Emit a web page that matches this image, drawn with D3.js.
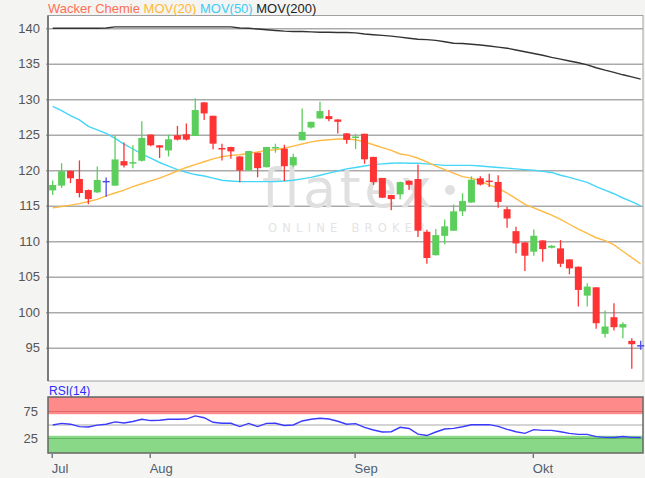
<!DOCTYPE html>
<html><head><meta charset="utf-8">
<script src="https://cdn.jsdelivr.net/npm/d3@7"></script>
<style>html,body{margin:0;padding:0;background:#f4f4f3;}svg{display:block;font-family:"Liberation Sans",Arial,sans-serif;}</style>
</head><body>
<svg id="c" width="645" height="478"></svg>
<script>
// ---- data ----
const opens  = [117.17,117.84,119.92,118.78,117.22,116.89,118.4,117.84,121.29,120.96,121.34,125.03,123.52,122.8,124.94,125.08,124.84,129.57,127.68,123.14,123.28,121.95,119.97,122.48,120.44,123.14,123.04,120.68,124.23,126.02,127.3,127.63,127.16,125.2,124.57,125.14,121.89,118.91,116.52,116.61,118.53,118.77,111.34,108.04,110.77,111.49,114.22,115.46,118.87,118.55,118.36,114.52,111.43,109.84,108.53,110.12,109.09,109.0,107.45,106.42,102.35,103.52,96.97,99.31,97.86,95.98,95.28];
const highs  = [118.55,121.0,119.95,121.39,117.3,120.53,118.97,124.84,123.9,123.52,126.92,125.05,123.55,125.03,126.26,126.59,130.14,129.6,127.7,123.75,123.3,121.97,122.71,122.5,123.3,123.75,123.61,122.33,128.72,126.83,129.67,128.49,127.18,125.25,125.14,125.16,121.9,118.93,116.54,118.44,118.55,120.83,111.63,111.73,113.07,115.18,116.76,119.15,119.15,119.53,119.3,114.85,112.04,109.86,111.67,110.14,109.47,110.17,107.47,106.44,104.08,103.54,100.24,101.27,98.6,96.36,95.98];
const lows   = [116.51,117.5,118.2,116.18,115.23,116.8,116.28,117.84,120.39,120.3,121.25,123.4,121.72,121.95,124.2,124.2,124.84,127.07,122.95,121.39,121.62,118.31,119.95,119.02,120.4,122.48,118.49,120.44,124.23,125.9,127.3,126.92,125.17,123.75,122.99,120.93,117.96,116.1,114.36,115.94,117.24,110.6,106.84,108.0,109.57,111.47,113.55,115.44,117.86,117.66,114.71,111.9,108.3,105.81,107.97,107.13,109.0,106.38,105.35,100.8,100.8,97.67,96.45,97.43,96.36,92.05,94.72];
const closes = [117.93,119.87,118.88,116.8,115.94,118.64,118.4,121.53,120.68,121.15,124.56,123.52,123.2,124.37,124.32,124.32,128.49,128.01,123.75,123.0,122.66,119.97,122.71,120.3,123.28,123.28,120.58,121.86,125.41,126.83,128.34,127.21,126.83,124.3,124.76,121.55,118.34,116.14,115.94,118.34,117.96,111.49,107.65,110.87,112.11,114.22,115.66,118.68,118.0,118.36,115.55,113.21,109.7,107.97,110.78,108.9,109.37,106.84,106.19,103.15,103.62,98.46,98.0,97.9,98.33,95.51,95.28];
const mov20  = [114.7,114.9,115.1,115.3,115.6,115.9,116.4,116.8,117.2,117.7,118.1,118.5,118.9,119.4,119.9,120.4,120.8,121.2,121.6,121.9,122.1,122.2,122.4,122.6,122.8,122.9,123.1,123.4,123.7,124.0,124.2,124.3,124.4,124.4,124.3,124.0,123.6,123.2,122.8,122.3,122.1,121.7,121.2,120.6,120.1,119.6,119.1,118.9,118.5,117.9,117.5,116.8,116.0,115.2,114.7,114.2,113.7,113.1,112.4,111.7,111.1,110.5,110.1,109.5,108.6,107.7,106.8];
const mov50  = [129.0,128.4,127.7,127.1,126.2,125.7,125.2,124.5,123.7,123.0,122.3,121.7,121.1,120.6,120.1,119.7,119.4,119.2,118.9,118.6,118.5,118.4,118.4,118.4,118.4,118.4,118.5,118.6,118.8,119.0,119.3,119.6,119.9,120.2,120.4,120.6,120.8,120.9,121.0,121.05,121.0,121.0,120.9,120.8,120.7,120.7,120.7,120.7,120.6,120.5,120.4,120.3,120.2,120.1,120.0,119.85,119.7,119.3,119.0,118.65,118.3,117.7,117.2,116.7,116.1,115.6,115.0];
const mov200 = [140.0,140.0,140.0,140.0,140.0,140.0,140.05,140.2,140.2,140.2,140.2,140.2,140.2,140.2,140.2,140.2,140.2,140.2,140.2,140.2,140.2,140.05,140.0,139.9,139.8,139.7,139.6,139.55,139.55,139.5,139.45,139.45,139.4,139.4,139.35,139.2,139.1,139.0,138.9,138.75,138.6,138.45,138.4,138.3,138.1,137.9,137.85,137.75,137.65,137.5,137.35,137.2,136.95,136.7,136.45,136.2,135.9,135.65,135.4,135.15,134.85,134.45,134.1,133.8,133.45,133.15,132.85];
const rsi    = [50,53,51.5,47,46.3,49.8,51.5,55.7,53.8,56.5,60.5,58.2,58.8,60.7,60.7,61,66.9,63.5,55,53.2,53.2,47,53,47,53,53.2,49,50,57.5,60.7,62.6,61,57,51.5,52.5,45.5,40.7,37,37.5,45.7,43.5,33,30.5,37,42.5,43.8,46.7,50.4,50.6,50.6,47.5,42,37.5,34.5,41.5,40,40,37.5,34.5,32.6,32.6,28.5,27,26.9,28.8,27,26.9];
const monthLabels = ["Jul","Aug","Sep","Okt"];
const monthIdx    = [0,11,34,54];
const yTicks   = [95,100,105,110,115,120,125,130,135,140];
const rsiTicks = [25,75];
const legend = [["Wacker Chemie","#ff6f55"],["MOV(20)","#ffb836"],["MOV(50)","#3dcdf5"],["MOV(200)","#222"]];

// ---- layout ----
const svg = d3.select("#c");
const L = 48, R = 643, T = 15.5, B = 381, RT = 397, RB = 453;
const x = d3.scaleLinear().domain([0, opens.length-1]).range([52.7, 640.7]);
const y = d3.scaleLinear().domain([95,140]).range([347.8, 28.3]);
const yr = d3.scaleLinear().domain([0,100]).range([452, 398]);

svg.append("rect").attr("width",645).attr("height",478).attr("fill","#f4f4f3");

// main panel
svg.append("rect").attr("x",L).attr("y",T).attr("width",R-L).attr("height",B-T)
  .attr("fill","#fff").attr("stroke","#a0a0a0").attr("stroke-width",1);

// y axis (gridlines + labels)
const ya = d3.axisLeft(y).tickValues(yTicks).tickSize(-(R-L)-2).tickFormat(d3.format("d")).tickPadding(8);
const gy = svg.append("g").attr("transform",`translate(${L},0)`).call(ya);
gy.select(".domain").remove();
gy.selectAll(".tick line").attr("stroke","#aaa").attr("stroke-width",1.4).attr("transform","translate(-2,0)");
gy.selectAll(".tick text").attr("fill","#555").attr("font-size",13).attr("font-family","Liberation Sans, Arial, sans-serif");

// watermark
svg.append("text").attr("x",262).attr("y",207).text("flatex")
  .attr("font-family","DejaVu Sans, sans-serif").attr("font-size",54).attr("letter-spacing",3.5)
  .attr("fill","#e0e0e0");
svg.append("circle").attr("cx",450).attr("cy",190).attr("r",5).attr("fill","#e0e0e0");
svg.append("text").attr("x",268).attr("y",232).text("ONLINE BROKER")
  .attr("font-family","DejaVu Sans, sans-serif").attr("font-size",11.5).attr("letter-spacing",5.2)
  .attr("fill","#e4e4e4");

// moving averages
const line = arr => d3.line().x((d,i)=>x(i)).y(d=>y(d))(arr);
svg.append("path").attr("d",line(mov200)).attr("fill","none").attr("stroke","#333").attr("stroke-width",1.4);
svg.append("path").attr("d",line(mov50)).attr("fill","none").attr("stroke","#45d6f7").attr("stroke-width",1.4);
svg.append("path").attr("d",line(mov20)).attr("fill","none").attr("stroke","#ffba45").attr("stroke-width",1.4);

// candles
const cw = 7;
const data = opens.map((o,i)=>({i,o,h:highs[i],l:lows[i],c:closes[i]}));
const col = d => d.c > d.o ? "#5cce5c" : (d.c < d.o ? "#ff3333" : "#4b4be8");
const cg = svg.append("g");
cg.selectAll("line.w").data(data).join("line").attr("class","w")
  .attr("x1",d=>x(d.i)).attr("x2",d=>x(d.i)).attr("y1",d=>y(d.h)).attr("y2",d=>y(d.l))
  .attr("stroke",col).attr("stroke-width",1.3);
cg.selectAll("rect.b").data(data.filter(d=>d.c!==d.o)).join("rect").attr("class","b")
  .attr("x",d=>x(d.i)-cw/2).attr("width",cw)
  .attr("y",d=>y(Math.max(d.o,d.c)))
  .attr("height",d=>Math.max(1.5, Math.abs(y(d.o)-y(d.c))))
  .attr("fill",col);
cg.selectAll("line.d").data(data.filter(d=>d.c===d.o)).join("line").attr("class","d")
  .attr("x1",d=>x(d.i)-cw/2).attr("x2",d=>x(d.i)+cw/2).attr("y1",d=>y(d.o)).attr("y2",d=>y(d.o))
  .attr("stroke",col).attr("stroke-width",1.5);

// left axis line
svg.append("line").attr("x1",L).attr("x2",L).attr("y1",T).attr("y2",B).attr("stroke","#666").attr("stroke-width",1.6);

// legend
const lg = svg.append("text").attr("x",48).attr("y",13).attr("font-size",13);
legend.forEach(([t,c],k)=>lg.append("tspan").text((k?" ":"")+t).attr("fill",c));

// RSI panel
svg.append("text").attr("x",49).attr("y",395).text("RSI(14)").attr("fill","#2b2bff").attr("font-size",12);
svg.append("rect").attr("x",L).attr("y",RT).attr("width",R-L).attr("height",RB-RT).attr("fill","#fff");
svg.append("rect").attr("x",L).attr("y",RT).attr("width",R-L).attr("height",yr(70)-RT).attr("fill","#ff8a8a");
svg.append("rect").attr("x",L).attr("y",yr(30)).attr("width",R-L).attr("height",RB-yr(30)).attr("fill","#88d888");
svg.append("line").attr("x1",L).attr("x2",R).attr("y1",yr(75)).attr("y2",yr(75)).attr("stroke","#e06a6a").attr("stroke-width",1.2);
svg.append("line").attr("x1",L).attr("x2",R).attr("y1",yr(25)).attr("y2",yr(25)).attr("stroke","#5fb55f").attr("stroke-width",1.2);
svg.append("line").attr("x1",L).attr("x2",R).attr("y1",yr(50)).attr("y2",yr(50)).attr("stroke","#aaa").attr("stroke-width",1.2);
svg.append("path").attr("d",d3.line().x((d,i)=>x(i)).y(d=>yr(d))(rsi)).attr("fill","none").attr("stroke","#3a3aff").attr("stroke-width",1.4);
svg.append("rect").attr("x",L).attr("y",RT).attr("width",R-L).attr("height",RB-RT).attr("fill","none").attr("stroke","#666").attr("stroke-width",1.5);
const ra = d3.axisLeft(yr).tickValues(rsiTicks).tickSize(0).tickPadding(10);
const gr = svg.append("g").attr("transform",`translate(${L},0)`).call(ra);
gr.select(".domain").remove();
gr.selectAll(".tick text").attr("fill","#555").attr("font-size",13).attr("font-family","Liberation Sans, Arial, sans-serif");

// x axis
const xa = d3.axisBottom(x).tickValues(monthIdx).tickFormat((d,k)=>monthLabels[k]).tickSize(4).tickPadding(6);
const gx = svg.append("g").attr("transform",`translate(0,${RB+1})`).call(xa);
gx.select(".domain").remove();
gx.selectAll(".tick line").attr("stroke","#4d6070").attr("stroke-width",1.2).attr("transform","translate(-1,0)");
gx.selectAll(".tick text").attr("fill","#4d6070").attr("font-size",13).attr("text-anchor","start")
  .attr("font-family","Liberation Sans, Arial, sans-serif").attr("dx",-1.5);
</script>
</body></html>
